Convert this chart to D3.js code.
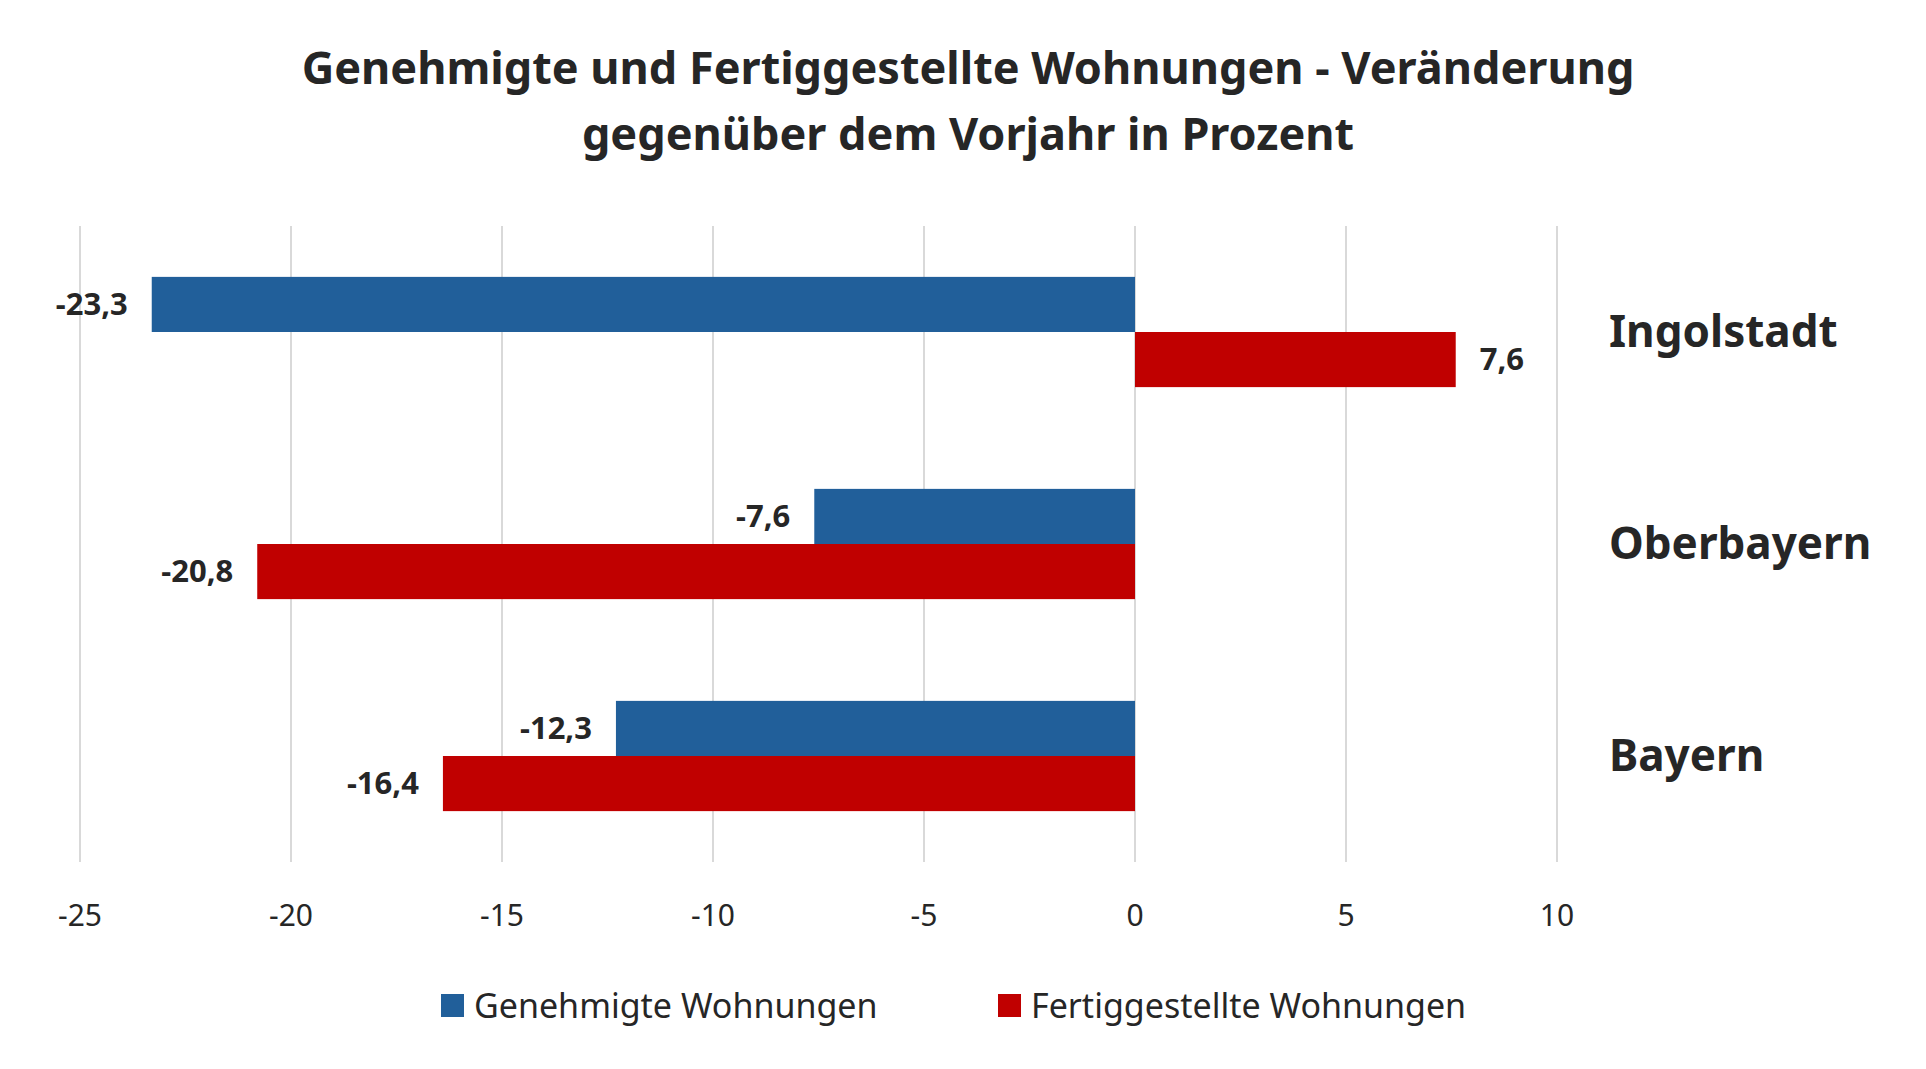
<!DOCTYPE html>
<html lang="de">
  <head>
    <meta charset="UTF-8" />
    <title>Wohnungen</title>
    <style>
      body { margin: 0; background: #fff; }
      text { font-family: "Noto Sans", sans-serif; fill: #262626; }
    </style>
  </head>
  <body>
    <svg id="svg" width="1926" height="1069"></svg>
    <script src="https://cdn.jsdelivr.net/npm/d3@7"></script>
    <script>
      // DATA
      const regions = ["Ingolstadt", "Oberbayern", "Bayern"];
      const series = ["Genehmigte Wohnungen", "Fertiggestellte Wohnungen"];
      const genehmigt = [-23.3, -7.6, -12.3];
      const fertig = [7.6, -20.8, -16.4];
      const ticks = [-25, -20, -15, -10, -5, 0, 5, 10];
      const colors = ["#215F9A", "#C00000"];

      const svg = d3.select("#svg");
      const x = d3.scaleLinear().domain([-25, 10]).range([80, 1557]);
      const y = d3.scaleBand().domain(regions).range([226, 862]).paddingInner(0.48).paddingOuter(0.24);
      const sub = d3.scaleBand().domain([0, 1]).range([0, y.bandwidth()]);

      // title
      const title = svg.append("text").attr("text-anchor", "middle")
        .style("font-size", "45px").style("font-weight", "bold");
      title.append("tspan").attr("x", 968).attr("y", 84)
        .text("Genehmigte und Fertiggestellte  Wohnungen - Veränderung");
      title.append("tspan").attr("x", 968).attr("y", 150)
        .text("gegenüber dem Vorjahr in Prozent");

      // grid
      svg.append("g").selectAll("line").data(ticks).enter().append("line")
        .attr("x1", (d) => x(d)).attr("x2", (d) => x(d))
        .attr("y1", 226).attr("y2", 862)
        .attr("stroke", "#d9d9d9").attr("stroke-width", 2);

      svg.append("g").selectAll("text").data(ticks).enter().append("text")
        .attr("x", (d) => x(d)).attr("y", 926)
        .attr("text-anchor", "middle").style("font-size", "30px")
        .text((d) => d);

      // bars
      const rows = [];
      regions.forEach((r, i) => {
        rows.push({ r, s: 0, v: genehmigt[i] });
        rows.push({ r, s: 1, v: fertig[i] });
      });
      const fmt = (v) => String(v).replace(".", ",");

      svg.append("g").selectAll("rect").data(rows).enter().append("rect")
        .attr("x", (d) => x(Math.min(0, d.v)))
        .attr("width", (d) => Math.abs(x(d.v) - x(0)))
        .attr("y", (d) => y(d.r) + sub(d.s))
        .attr("height", sub.bandwidth())
        .attr("fill", (d) => colors[d.s]);

      svg.append("g").selectAll("text").data(rows).enter().append("text")
        .attr("x", (d) => (d.v < 0 ? x(d.v) - 24 : x(d.v) + 24))
        .attr("y", (d) => y(d.r) + sub(d.s) + sub.bandwidth() / 2)
        .attr("dy", "0.35em")
        .attr("text-anchor", (d) => (d.v < 0 ? "end" : "start"))
        .style("font-size", "31px").style("font-weight", "bold")
        .text((d) => fmt(d.v));

      // category labels
      svg.append("g").selectAll("text").data(regions).enter().append("text")
        .attr("x", 1609).attr("y", (d) => y(d) + y.bandwidth() / 2)
        .attr("dy", "0.35em")
        .style("font-size", "44px").style("font-weight", "bold")
        .text((d) => d);

      // legend
      const legX = [441, 998];
      const leg = svg.append("g").selectAll("g").data(series).enter().append("g")
        .attr("transform", (d, i) => `translate(${legX[i]}, 1006)`);
      leg.append("rect").attr("x", 0).attr("y", -12).attr("width", 23).attr("height", 23)
        .attr("fill", (d, i) => colors[i]);
      leg.append("text").attr("x", 33).attr("dy", "0.35em")
        .style("font-size", "34px").text((d) => d);
    </script>
  </body>
</html>
